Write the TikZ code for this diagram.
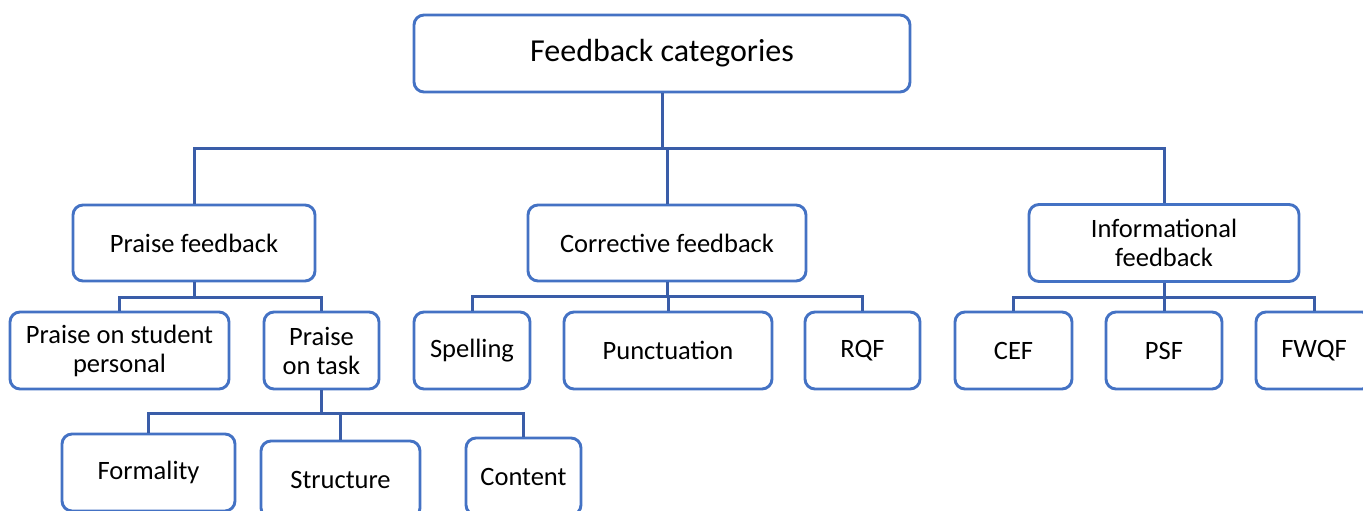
\documentclass[tikz,border=0pt]{standalone}
\usepackage{fontspec}
\setmainfont{Carlito}
\definecolor{boxblue}{HTML}{4472C4}
\definecolor{linkblue}{HTML}{3A5DA8}
\begin{document}
\begin{tikzpicture}[x=1pt,y=-1pt,
  box/.style={draw=boxblue, line width=2.9pt, rounded corners=10pt, fill=white,
    inner sep=0pt, align=center, text=black,
    font=\fontsize{26.5}{29}\selectfont},
  link/.style={draw=linkblue, line width=3pt}]
\useasboundingbox (0,0) rectangle (1363,511);
% nodes
\node[box, minimum width=496pt, minimum height=77pt, font=\fontsize{32}{36}\selectfont] (top) at (662,53.5) {Feedback categories};
\node[box, minimum width=242pt, minimum height=76pt] (pf) at (194,243) {Praise feedback};
\node[box, minimum width=278pt, minimum height=76pt] (cf) at (667,243) {Corrective feedback};
\node[box, minimum width=270pt, minimum height=77pt] (if) at (1164,243) {Informational\\feedback};
\node[box, minimum width=219pt, minimum height=77pt] (pse) at (119.5,350.5) {Praise on student\\personal};
\node[box, minimum width=115pt, minimum height=77pt] (pot) at (321.5,350.5) {Praise\\on task};
\node[box, minimum width=116pt, minimum height=77pt] (sp) at (472,350.5) {Spelling};
\node[box, minimum width=208pt, minimum height=77pt] (pu) at (668,350.5) {Punctuation};
\node[box, minimum width=115pt, minimum height=77pt] (rqf) at (862.5,350.5) {RQF};
\node[box, minimum width=117pt, minimum height=77pt] (cef) at (1013.5,350.5) {CEF};
\node[box, minimum width=116pt, minimum height=77pt] (psf) at (1164,350.5) {PSF};
\node[box, minimum width=116pt, minimum height=77pt] (fwqf) at (1314,350.5) {FWQF};
\node[box, minimum width=173pt, minimum height=77pt] (form) at (148.5,472.5) {Formality};
\node[box, minimum width=159pt, minimum height=77pt] (str) at (340.5,479.5) {Structure};
\node[box, minimum width=115pt, minimum height=77pt] (con) at (523.5,476.5) {Content};
% bus coordinates
\coordinate (b1) at (0,148);
\coordinate (b2) at (0,297);
\coordinate (b3) at (0,296);
\coordinate (b4) at (0,297);
\coordinate (b5) at (0,413);
% level 1
\draw[link] (top.south) -- (top.south |- b1);
\draw[link] (pf.north) -- (pf.north |- b1) -- (if.north |- b1) -- (if.north);
\draw[link] (cf.north) -- (cf.north |- b1);
% praise
\draw[link] (pf.south) -- (pf.south |- b2);
\draw[link] (pse.north) -- (pse.north |- b2) -- (pot.north |- b2) -- (pot.north);
% corrective
\draw[link] (cf.south) -- (cf.south |- b3);
\draw[link] (sp.north) -- (sp.north |- b3) -- (rqf.north |- b3) -- (rqf.north);
\draw[link] (pu.north) -- (pu.north |- b3);
% informational
\draw[link] (if.south) -- (if.south |- b4);
\draw[link] (cef.north) -- (cef.north |- b4) -- (fwqf.north |- b4) -- (fwqf.north);
\draw[link] (psf.north) -- (psf.north |- b4);
% praise on task
\draw[link] (pot.south) -- (pot.south |- b5);
\draw[link] (form.north) -- (form.north |- b5) -- (con.north |- b5) -- (con.north);
\draw[link] (str.north) -- (str.north |- b5);
\end{tikzpicture}
\end{document}
